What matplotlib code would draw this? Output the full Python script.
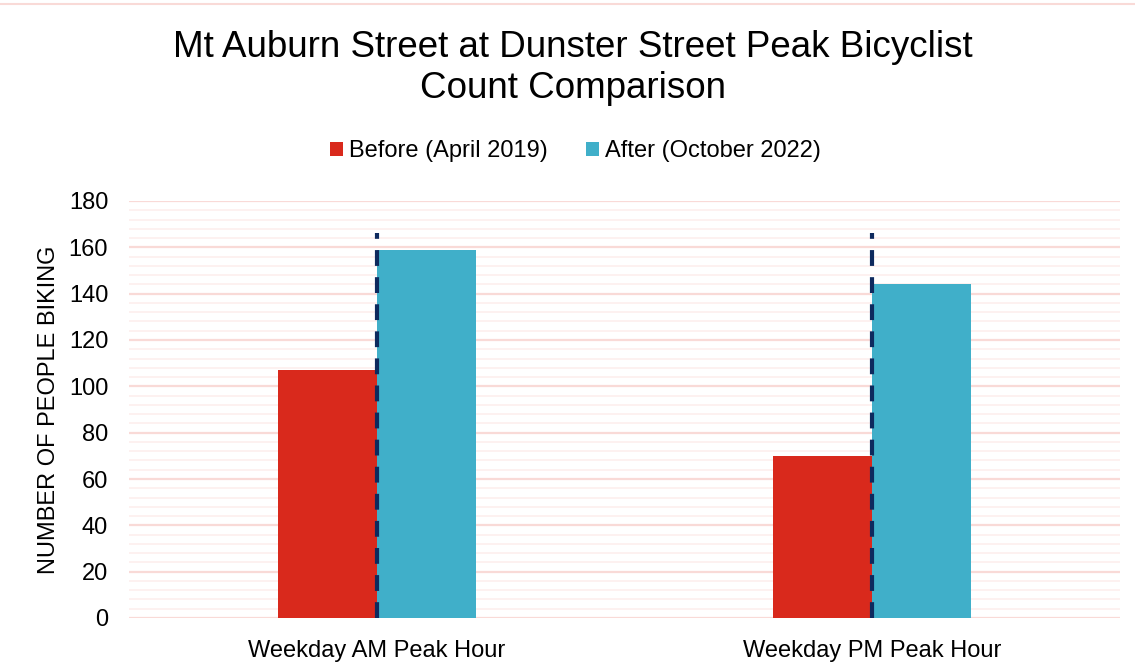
import matplotlib.pyplot as plt
import numpy as np
from matplotlib.ticker import MultipleLocator

plt.rcParams['font.family'] = ['Liberation Sans', 'DejaVu Sans']

# data
categories = ['Weekday AM Peak Hour', 'Weekday PM Peak Hour']
before = [107, 70]
after = [159, 144]
series_names = ['Before (April 2019)', 'After (October 2022)']
divider_top = [166, 166]

red = '#D9291C'
blue = '#40AFC9'
navy = '#0E2A5E'
grid_major = '#F9DAD7'
grid_minor = '#FDF0EF'

fig = plt.figure(figsize=(11.35, 6.72), dpi=100)
ax = fig.add_axes([129 / 1135, 1 - 618 / 672, (1120 - 129) / 1135, 417 / 672])

x = np.arange(len(categories))
w = 0.2
ax.bar(x - w / 2, before, width=w, color=red, label=series_names[0], zorder=2)
ax.bar(x + w / 2, after, width=w, color=blue, label=series_names[1], zorder=2)
ax.vlines(x, 0, divider_top, colors=navy, linestyles=(0, (3.8, 2.7)),
          linewidth=3, zorder=3)

ax.set_xlim(-0.5, len(categories) - 0.5)
ax.set_ylim(0, 180)
ax.set_xticks(x)
ax.set_xticklabels(categories, fontsize=17)
ax.yaxis.set_major_locator(MultipleLocator(20))
ax.yaxis.set_minor_locator(MultipleLocator(4))
ax.tick_params(axis='y', labelsize=17, length=0, pad=15, which='both')
ax.tick_params(axis='x', length=0, pad=16)
ax.grid(axis='y', which='major', color=grid_major, linewidth=1.6, zorder=0)
ax.grid(axis='y', which='minor', color=grid_minor, linewidth=1.3, zorder=0)
for s in ax.spines.values():
    s.set_visible(False)
ax.set_ylabel('NUMBER OF PEOPLE BIKING', fontsize=17, labelpad=6)

fig.text(0.505, 1 - 68 / 672, 'Mt Auburn Street at Dunster Street Peak Bicyclist\nCount Comparison',
         ha='center', va='center', fontsize=26.5, linespacing=1.2)

fig.legend(loc='center', bbox_to_anchor=(0.507, 1 - 151 / 672), ncol=2, frameon=False,
           fontsize=17, handlelength=0.55, handleheight=0.55, handletextpad=0.25,
           columnspacing=1.6)

# thin top border line
fig.add_artist(plt.Line2D([0, 1], [1 - 4 / 672] * 2, color=grid_major, linewidth=1.5))

fig.savefig('out.png', dpi=100)
